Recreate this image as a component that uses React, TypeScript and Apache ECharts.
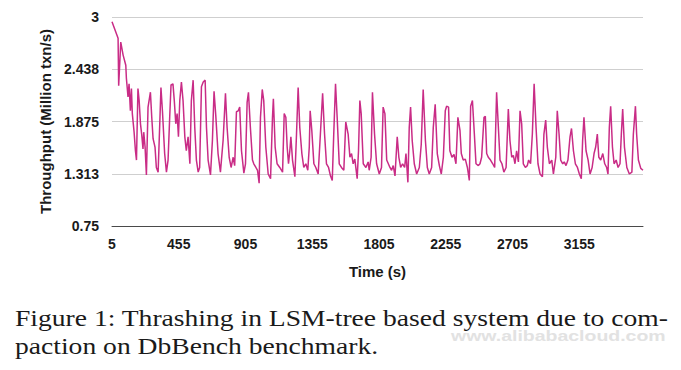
import React, { useEffect, useRef } from "react";
import * as echarts from "echarts";

const times: number[] = [
  5, 46, 50, 64, 80, 98, 102, 113, 120, 129, 136, 142, 154, 163, 170, 180, 188, 197, 205, 214,
  219, 228, 237, 248, 264, 273, 282, 295, 304, 316, 327, 335, 345, 360, 372, 383, 394, 403, 416, 425,
  435, 444, 453, 462, 473, 484, 496, 506, 518, 530, 540, 552, 563, 574, 586, 596, 608, 620, 633, 642,
  653, 669, 682, 693, 705, 720, 736, 754, 770, 781, 795, 808, 822, 832, 844, 856, 866, 878, 894, 905,
  916, 925, 938, 952, 961, 975, 986, 997, 1006, 1018, 1028, 1042, 1058, 1074, 1087, 1093, 1105, 1118, 1136, 1155,
  1166, 1177, 1186, 1195, 1204, 1211, 1222, 1238, 1249, 1260, 1271, 1285, 1298, 1312, 1325, 1335, 1341, 1352, 1366, 1379,
  1395, 1410, 1425, 1438, 1451, 1465, 1478, 1490, 1500, 1512, 1523, 1537, 1552, 1568, 1581, 1597, 1609, 1620, 1631, 1642,
  1658, 1667, 1676, 1685, 1699, 1717, 1732, 1739, 1752, 1761, 1775, 1789, 1807, 1822, 1833, 1845, 1857, 1879, 1890, 1901,
  1913, 1928, 1939, 1951, 1964, 1978, 1987, 2000, 2009, 2018, 2029, 2043, 2059, 2077, 2090, 2103, 2118, 2131, 2144, 2160,
  2171, 2184, 2198, 2212, 2225, 2239, 2252, 2261, 2274, 2283, 2297, 2311, 2324, 2337, 2351, 2360, 2373, 2387, 2401, 2414,
  2423, 2435, 2448, 2459, 2475, 2486, 2497, 2513, 2522, 2531, 2542, 2557, 2572, 2585, 2598, 2610, 2621, 2634, 2647, 2662,
  2677, 2688, 2700, 2711, 2722, 2733, 2745, 2756, 2767, 2778, 2792, 2805, 2814, 2827, 2839, 2851, 2864, 2877, 2891, 2907,
  2917, 2929, 2940, 2954, 2970, 2981, 2997, 3007, 3019, 3030, 3044, 3054, 3066, 3079, 3093, 3103, 3116, 3129, 3143, 3156,
  3169, 3178, 3187, 3201, 3215, 3228, 3242, 3255, 3266, 3277, 3287, 3300, 3314, 3327, 3340, 3349, 3358, 3367, 3379, 3390,
  3404, 3417, 3430, 3439, 3448, 3460, 3476, 3493, 3510, 3520, 3534, 3542, 3554, 3570, 3585,
];

const throughput: number[] = [
  2.95, 2.77, 2.26, 2.73, 2.59, 2.48, 2.34, 2.14, 2.28, 1.99, 2.23, 1.96, 1.76, 1.56, 1.46, 2.23, 2.10, 1.85, 1.74, 1.58,
  1.76, 1.60, 1.30, 2.03, 2.19, 1.92, 1.69, 1.60, 1.38, 1.33, 1.85, 2.24, 1.99, 1.53, 1.33, 1.46, 1.92, 2.27, 2.28, 2.10,
  1.85, 1.96, 1.71, 2.10, 2.30, 2.10, 1.71, 1.56, 1.71, 1.42, 2.10, 2.32, 1.81, 1.46, 1.33, 1.38, 2.25, 2.30, 2.32, 1.81,
  1.46, 1.30, 1.67, 2.20, 1.93, 1.53, 1.33, 1.67, 2.18, 1.81, 1.49, 1.38, 1.49, 1.40, 1.98, 1.99, 2.03, 1.56, 1.32, 1.42,
  2.08, 2.19, 1.81, 1.46, 1.42, 1.38, 1.35, 1.21, 1.92, 2.22, 2.10, 1.60, 1.31, 1.26, 1.92, 2.12, 1.60, 1.42, 1.38, 1.33,
  1.96, 1.92, 1.60, 1.42, 1.56, 1.71, 1.46, 1.28, 1.74, 2.24, 1.81, 1.53, 1.38, 1.42, 1.35, 1.60, 1.99, 1.78, 1.42, 1.38,
  1.31, 1.74, 2.18, 1.74, 1.42, 1.38, 1.29, 1.24, 1.74, 2.28, 1.92, 1.42, 1.38, 1.35, 1.87, 1.74, 1.49, 1.53, 1.42, 1.47,
  1.26, 1.56, 2.10, 1.96, 1.42, 1.38, 1.44, 1.35, 1.49, 2.19, 1.74, 1.42, 1.31, 1.38, 2.03, 1.96, 1.46, 1.38, 1.35, 1.40,
  1.29, 1.71, 1.49, 1.38, 1.42, 1.38, 1.53, 1.22, 1.81, 2.03, 1.67, 1.42, 1.31, 1.38, 1.63, 2.22, 1.67, 1.38, 1.31, 1.38,
  1.81, 2.06, 1.53, 1.40, 1.31, 1.49, 1.99, 2.04, 2.03, 1.56, 1.49, 1.52, 1.42, 1.92, 1.78, 1.53, 1.46, 1.47, 1.38, 1.24,
  2.04, 2.10, 1.74, 1.42, 1.40, 1.42, 1.49, 1.92, 1.93, 1.53, 1.49, 1.46, 1.42, 1.38, 2.19, 1.81, 1.46, 1.42, 1.33, 1.38,
  2.01, 1.67, 1.49, 1.51, 1.42, 1.56, 1.44, 1.99, 1.85, 1.42, 1.38, 1.40, 1.46, 1.42, 1.74, 2.28, 1.81, 1.42, 1.31, 1.28,
  1.74, 1.89, 1.60, 1.42, 1.46, 1.31, 1.49, 1.99, 1.74, 1.46, 1.42, 1.44, 1.40, 1.46, 1.71, 1.80, 1.56, 1.42, 1.38, 1.31,
  1.26, 1.67, 1.92, 1.56, 1.46, 1.31, 1.38, 1.53, 1.60, 1.74, 1.49, 1.46, 1.53, 1.42, 1.38, 1.31, 1.81, 2.04, 1.60, 1.42,
  1.46, 1.38, 1.42, 1.74, 2.01, 1.60, 1.38, 1.31, 1.33, 1.74, 2.04, 1.74, 1.46, 1.37, 1.35,
];

const xTickLabels: string[] = ["5", "455", "905", "1355", "1805", "2255", "2705", "3155"];
const yTickLabels: string[] = ["0.75", "1.313", "1.875", "2.438", "3"];

const xAxisTitle = "Time (s)";
const yAxisTitle = "Throughput (Million txn/s)";
const captionLines: string[] = [
  "Figure 1: Thrashing in LSM-tree based system due to com-",
  "paction on DbBench benchmark.",
];
const watermark = "www.alibabacloud.com";

export default function App() {
  const ref = useRef<HTMLDivElement>(null);

  useEffect(() => {
    if (!ref.current) return;
    const chart = echarts.init(ref.current, null, { renderer: "svg" });
    const data = times.map((t, i) => [t, throughput[i]]);
    const sans = "'Liberation Sans', Arial, Helvetica, sans-serif";
    const serif = "'Liberation Serif', 'Times New Roman', serif";
    chart.setOption({
      animation: false,
      backgroundColor: "#ffffff",
      grid: { left: 112, right: 38, top: 17, bottom: 144, containLabel: false },
      xAxis: {
        type: "value",
        min: 5,
        max: 3585,
        interval: 450,
        name: xAxisTitle,
        nameLocation: "middle",
        nameGap: 38,
        nameTextStyle: { fontFamily: sans, fontWeight: "bold", fontSize: 15, color: "#1a1a1a" },
        axisLine: { show: true, lineStyle: { color: "#4a4a4a", width: 1 } },
        axisTick: { show: false },
        splitLine: { show: false },
        axisLabel: {
          fontFamily: sans,
          fontWeight: "bold",
          fontSize: 14,
          color: "#1a1a1a",
          margin: 11,
          showMaxLabel: false,
          formatter: (_v: number, idx: number) => (idx < xTickLabels.length ? xTickLabels[idx] : ""),
        },
      },
      yAxis: {
        type: "value",
        min: 0.75,
        max: 3,
        interval: 0.5625,
        name: yAxisTitle,
        nameLocation: "middle",
        nameGap: 59,
        nameTextStyle: { fontFamily: sans, fontWeight: "bold", fontSize: 15, color: "#1a1a1a" },
        axisLine: { show: false },
        axisTick: { show: false },
        splitLine: { show: true, lineStyle: { color: "#cfcfcf", width: 1 } },
        axisLabel: {
          fontFamily: sans,
          fontWeight: "bold",
          fontSize: 14,
          color: "#1a1a1a",
          margin: 13,
          formatter: (_v: number, idx: number) => yTickLabels[idx] ?? "",
        },
      },
      series: [
        {
          type: "line",
          data,
          showSymbol: false,
          symbol: "none",
          lineStyle: { color: "#c92c86", width: 1.5 },
          z: 3,
        },
      ],
      graphic: [
        {
          type: "text",
          x: 15,
          y: 318,
          scaleX: 1.2,
          style: {
            text: captionLines[0],
            fontFamily: serif,
            fontSize: 23,
            lineHeight: 22,
            align: "left",
            verticalAlign: "middle",
            fill: "#1a1a1a",
          },
        },
        {
          type: "text",
          x: 15,
          y: 346,
          scaleX: 1.2,
          style: {
            text: captionLines[1],
            fontFamily: serif,
            fontSize: 23,
            lineHeight: 22,
            align: "left",
            verticalAlign: "middle",
            fill: "#1a1a1a",
          },
        },
        {
          type: "text",
          x: 451,
          y: 336,
          scaleX: 1.3,
          style: {
            text: watermark,
            fontFamily: sans,
            fontWeight: "bold",
            fontSize: 15,
            lineHeight: 12,
            align: "left",
            verticalAlign: "middle",
            fill: "#e2e2e2",
          },
        },
      ],
    });
    return () => chart.dispose();
  }, []);

  return (
    <div
      ref={ref}
      style={{ position: "fixed", left: 0, top: 0, width: 681, height: 370, background: "#fff" }}
    />
  );
}
